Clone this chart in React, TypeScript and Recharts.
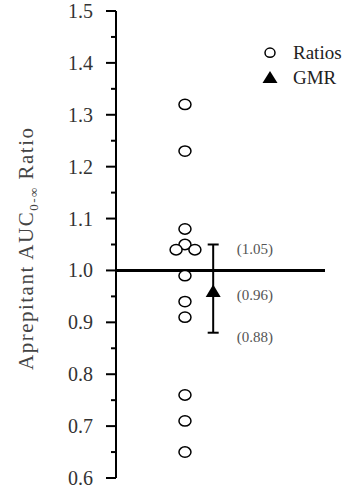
import React from 'react';
import { ScatterChart, Scatter, XAxis, YAxis, ReferenceLine, ErrorBar, Legend } from 'recharts';

// Individual subject ratios (test / reference)
const ratioValues = [1.32, 1.23, 1.08, 1.05, 1.04, 1.04, 0.99, 0.94, 0.91, 0.76, 0.71, 0.65];
// Horizontal jitter so overlapping subjects stay visible
const ratioJitter = [6.6, 6.6, 6.6, 6.6, 5.75, 7.55, 6.6, 6.6, 6.6, 6.6, 6.6, 6.6];

// Geometric mean ratio with its 90% confidence interval
const gmrPosition = 9.3;
const gmrValue = 0.96;
const ciLower = 0.88;
const ciUpper = 1.05;

// Axis ticks: labelled every 0.1, minor marks every 0.05
const yTicks = [0.6, 0.65, 0.7, 0.75, 0.8, 0.85, 0.9, 0.95, 1.0, 1.05, 1.1, 1.15, 1.2, 1.25, 1.3, 1.35, 1.4, 1.45, 1.5];

const ratioData = ratioValues.map((y, i) => ({ x: ratioJitter[i], y }));
const gmrData = [{ x: gmrPosition, y: gmrValue, err: [gmrValue - ciLower, ciUpper - gmrValue] }];
const ciLabelData = [ciUpper, gmrValue, ciLower].map((y) => ({ x: gmrPosition, y }));

const SERIF = '"Liberation Serif", "Times New Roman", serif';

const isMajor = (v: number) => Math.abs(v * 10 - Math.round(v * 10)) < 1e-6;

const AxisTick = (props: any) => {
  const { x, y, payload } = props;
  const v = payload.value as number;
  const major = isMajor(v);
  return (
    <g>
      <line x1={x - (major ? 10 : 5)} x2={x} y1={y} y2={y} stroke="#000" strokeWidth={2} />
      {major && (
        <text x={x - 23} y={y} dy="0.35em" textAnchor="end" fontFamily={SERIF} fontSize={20} fill="#333">
          {v.toFixed(1)}
        </text>
      )}
    </g>
  );
};

const YLabel = () => (
  <text
    transform="translate(33, 249) rotate(-90)"
    textAnchor="middle"
    fontFamily={SERIF}
    fontSize={21}
    fill="#444"
    textLength={242}
    lengthAdjust="spacing"
  >
    Aprepitant AUC
    <tspan fontSize={13} dy={5}>0-∞</tspan>
    <tspan dy={-5}> Ratio</tspan>
  </text>
);

const RatioDot = (props: any) => {
  const { cx, cy } = props;
  return <ellipse cx={cx} cy={cy} rx={6} ry={5.2} fill="#fff" stroke="#000" strokeWidth={1.5} />;
};

const GmrTriangle = (props: any) => {
  const { cx, cy } = props;
  return <polygon points={`${cx},${cy - 6.7} ${cx + 7.5},${cy + 5.7} ${cx - 7.5},${cy + 5.7}`} fill="#000" />;
};

const CiLabel = (props: any) => {
  const { cx, cy, payload } = props;
  return (
    <text x={cx + 23.5} y={cy + 4} dy="0.35em" fontFamily={SERIF} fontSize={15} fill="#555">
      ({payload.y.toFixed(2)})
    </text>
  );
};

const LegendBox = () => (
  <svg width={85} height={52}>
    <ellipse cx={12} cy={14.7} rx={5} ry={4.6} fill="#fff" stroke="#000" strokeWidth={1.5} />
    <text x={35} y={21.3} fontFamily={SERIF} fontSize={19} fill="#222">Ratios</text>
    <polygon points="12,33 19.5,45 4.5,45" fill="#000" />
    <text x={35} y={45.5} fontFamily={SERIF} fontSize={19} fill="#222">GMR</text>
  </svg>
);

export default function App() {
  return (
    <div style={{ position: 'absolute', left: 0, top: 0, width: 343, height: 495, background: '#fff' }}>
      <ScatterChart width={343} height={495} margin={{ top: 11, right: 18, bottom: 17, left: 0 }}>
        <XAxis type="number" dataKey="x" domain={[0, 20]} hide />
        <YAxis
          type="number"
          dataKey="y"
          domain={[0.6, 1.5]}
          ticks={yTicks}
          interval={0}
          width={116}
          tickSize={0}
          tickMargin={0}
          tickLine={false}
          axisLine={{ stroke: '#000', strokeWidth: 2 }}
          tick={<AxisTick />}
          label={<YLabel />}
        />
        <ReferenceLine y={1} stroke="#000" strokeWidth={3} ifOverflow="extendDomain" />
        <Scatter name="Ratios" data={ratioData} shape={<RatioDot />} isAnimationActive={false} />
        <Scatter name="GMR" data={gmrData} shape={<GmrTriangle />} isAnimationActive={false}>
          <ErrorBar dataKey="err" direction="y" width={5.5} stroke="#000" strokeWidth={2} />
        </Scatter>
        <Scatter name="CI" data={ciLabelData} shape={<CiLabel />} isAnimationActive={false} legendType="none" />
        <Legend
          layout="vertical"
          align="center"
          verticalAlign="middle"
          content={<LegendBox />}
          wrapperStyle={{ position: 'absolute', left: 258, top: 38, width: 85, height: 52 }}
        />
      </ScatterChart>
    </div>
  );
}
